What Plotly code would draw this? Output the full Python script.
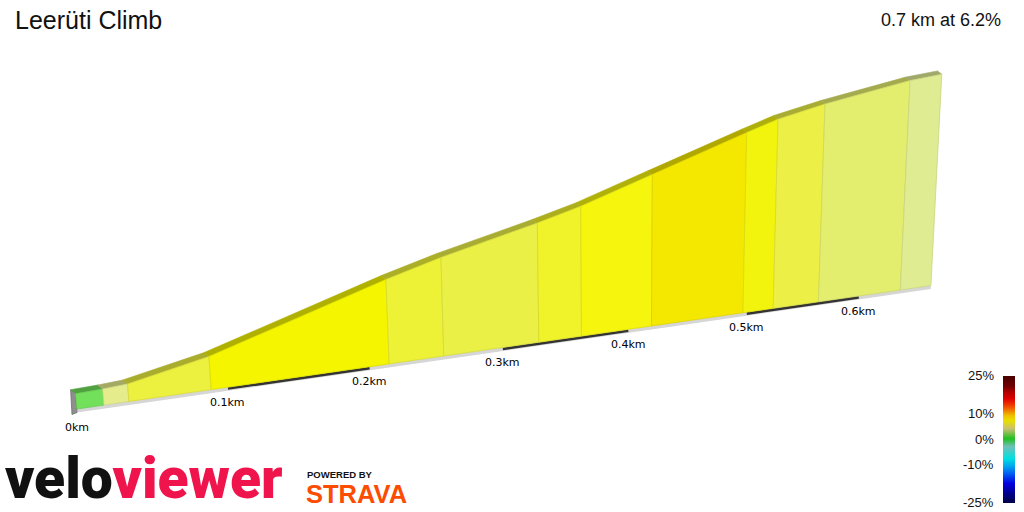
import plotly.graph_objects as go

# ---------------- data ----------------
title = "Leerüti Climb"
summary = "0.7 km at 6.2%"
dist_km = [0.0, 0.0174, 0.0337, 0.0886, 0.2143, 0.2549, 0.3281, 0.3620,
           0.4191, 0.4967, 0.5231, 0.5634, 0.6386, 0.6675]
elev_gain_m = [0.0, 0.15, 0.42, 3.34, 13.20, 16.02, 20.33, 22.56,
               27.14, 33.35, 35.36, 37.43, 40.53, 41.21]
km_ticks = [0.0, 0.1, 0.2, 0.3, 0.4, 0.5, 0.6]
km_labels = ["0km", "0.1km", "0.2km", "0.3km", "0.4km", "0.5km", "0.6km"]
cbar_ticks = [25, 10, 0, -10, -25]
cbar_labels = ["25%", "10%", "0%", "-10%", "-25%"]

# ---------------- style ----------------
seg_colors = ["#72e05a", "#e4ec8c", "#ecf03e", "#f5f500", "#eef236", "#eaf046",
              "#f0f22a", "#f5f50e", "#f5e800", "#f3f40e", "#ecf046", "#e4ee6e", "#dfec92"]
cscale = [[0.0, "#000048"], [0.062, "#000080"], [0.154, "#0000e0"], [0.22, "#0050f0"],
          [0.284, "#00a0f0"], [0.35, "#00e0e0"], [0.444, "#70c0b8"], [0.506, "#20c020"],
          [0.584, "#c8c070"], [0.648, "#e8e000"], [0.688, "#f0c000"], [0.726, "#f08000"],
          [0.766, "#f04000"], [0.82, "#e00000"], [0.874, "#b00000"], [0.92, "#700000"],
          [1.0, "#480000"]]

# perspective view parameters (screen pixels)
X0, Y0 = 77.0, 409.0
C1 = 0.3275            # distance perspective (per km)
VD = (4837.0, -279.0)  # vanishing point along distance
K = -0.000926          # height perspective (per m)
VH = (616.0, 6400.0)   # vanishing point of verticals
BASE = 2.75            # wall base thickness (m)
DEPTH = (-5.0, -4.0)   # wall thickness offset
STRIP = 3.5            # ground strip thickness
W, H = 1024, 512


def proj(d, z):
    w = 1 + C1 * d + K * z
    x = (X0 + C1 * VD[0] * d + K * VH[0] * z) / w
    y = (Y0 + C1 * VD[1] * d + K * VH[1] * z) / w
    return x, y, w


def darken(hexc, f):
    r, g, b = int(hexc[1:3], 16), int(hexc[3:5], 16), int(hexc[5:7], 16)
    return "rgb(%d,%d,%d)" % (r * f, g * f, b * f)


fig = go.Figure()


def poly(xs, ys, fill, line=None, lw=0):
    fig.add_trace(go.Scatter(x=xs + [xs[0]], y=ys + [ys[0]], mode="lines", fill="toself",
                             fillcolor=fill, line=dict(color=line or fill, width=lw),
                             hoverinfo="skip", showlegend=False))


n = len(dist_km)
L = dist_km[-1]

# ground strip
bx0, by0, _ = proj(0, 0)
bx1, by1, _ = proj(L, 0)
poly([bx0, bx1, bx1, bx0], [by0, by1, by1 + STRIP, by0 + STRIP], "#d6d6d6")

# ruler segments
for i in range(1, len(km_ticks) - 1, 2):
    xa, ya, _ = proj(km_ticks[i], 0)
    xb, yb, _ = proj(km_ticks[i + 1], 0)
    fig.add_trace(go.Scatter(x=[xa, xb], y=[ya + 1.4, yb + 1.4], mode="lines",
                             line=dict(color="#333333", width=2.6),
                             hoverinfo="skip", showlegend=False))

# left end face
ftx, fty, fw = proj(0, BASE)
fbx, fby, _ = proj(0, 0)
poly([ftx, ftx + DEPTH[0] / fw, fbx + DEPTH[0] / fw, fbx],
     [fty, fty + DEPTH[1] / fw, fby + STRIP + 2, fby + STRIP], "#8e8e8e", "#6e6e6e", 0.8)

# top faces
for i in range(n - 1):
    xa, ya, wa = proj(dist_km[i], elev_gain_m[i] + BASE)
    xb, yb, wb = proj(dist_km[i + 1], elev_gain_m[i + 1] + BASE)
    c = darken(seg_colors[i], 0.72)
    poly([xa, xb, xb + DEPTH[0] / wb, xa + DEPTH[0] / wa],
         [ya, yb, yb + DEPTH[1] / wb, ya + DEPTH[1] / wa], c, c, 0.6)

# front faces
for i in range(n - 1):
    xa, ya, _ = proj(dist_km[i], elev_gain_m[i] + BASE)
    xb, yb, _ = proj(dist_km[i + 1], elev_gain_m[i + 1] + BASE)
    xc, yc, _ = proj(dist_km[i + 1], 0)
    xd, yd, _ = proj(dist_km[i], 0)
    poly([xd, xc, xb, xa], [yd, yc, yb, ya], seg_colors[i], darken(seg_colors[i], 0.9), 0.8)

# colour bar
cb_top, cb_bot = 375.5, 502.7
fig.add_trace(go.Scatter(
    x=[-100], y=[-100], mode="markers", hoverinfo="skip", showlegend=False,
    marker=dict(size=1, color=[0], cmin=-25, cmax=25, colorscale=cscale, showscale=True,
                colorbar=dict(x=1002.7 / W, xanchor="left", xpad=0,
                              y=1 - (cb_top + cb_bot) / 2 / H, yanchor="middle", ypad=0,
                              lenmode="pixels", len=cb_bot - cb_top, thickness=12,
                              outlinewidth=0, showticklabels=False, ticks=""))))

ann = []
for v, t in zip(cbar_ticks, cbar_labels):
    yy = cb_top + (25 - v) / 50 * (cb_bot - cb_top)
    ann.append(dict(x=996, y=yy, xref="x", yref="y", text=t, showarrow=False,
                    xanchor="right", yanchor="middle",
                    font=dict(family="Liberation Sans, Arial", size=13, color="#111")))

# distance labels
for v, t in zip(km_ticks, km_labels):
    xx, yy, _ = proj(v, 0)
    off = 18 if v == 0 else 15
    ann.append(dict(x=xx, y=yy + off, xref="x", yref="y", text=t, showarrow=False,
                    xanchor="center", yanchor="middle",
                    font=dict(family="DejaVu Sans, Verdana", size=11, color="#000")))

ann.append(dict(x=13, y=20, xref="x", yref="y", text=title, showarrow=False,
                xanchor="left", yanchor="middle",
                font=dict(family="Liberation Sans, Arial", size=25, color="#111")))
ann.append(dict(x=1003, y=20, xref="x", yref="y", text=summary, showarrow=False,
                xanchor="right", yanchor="middle",
                font=dict(family="Liberation Sans, Arial", size=18, color="#111")))

# logos
ann.append(dict(x=3, y=478, xref="x", yref="y", showarrow=False, xanchor="left", yanchor="middle",
                text="<span style='color:#111111'>velo</span><span style='color:#f0144c'>viewer</span>",
                font=dict(family="Roboto, Inter", size=57, weight=900)))
ann.append(dict(x=305, y=474, xref="x", yref="y", showarrow=False, xanchor="left", yanchor="middle",
                text="POWERED BY",
                font=dict(family="Liberation Sans, Arial", size=9.5, color="#111", weight=700)))
ann.append(dict(x=304, y=494, xref="x", yref="y", showarrow=False, xanchor="left", yanchor="middle",
                text="STRAVA",
                font=dict(family="Liberation Sans, Arial", size=25.5, color="#fc4c02", weight=900)))

fig.update_layout(
    width=W, height=H, margin=dict(l=0, r=0, t=0, b=0),
    paper_bgcolor="white", plot_bgcolor="white",
    xaxis=dict(range=[0, W], visible=False, fixedrange=True),
    yaxis=dict(range=[H, 0], visible=False, fixedrange=True),
    annotations=ann, showlegend=False,
)
fig.write_html("out.html", config={"displayModeBar": False},
               post_script="document.body.style.margin='0px';document.body.style.padding='0px';"
                           "document.body.style.overflow='hidden';")
